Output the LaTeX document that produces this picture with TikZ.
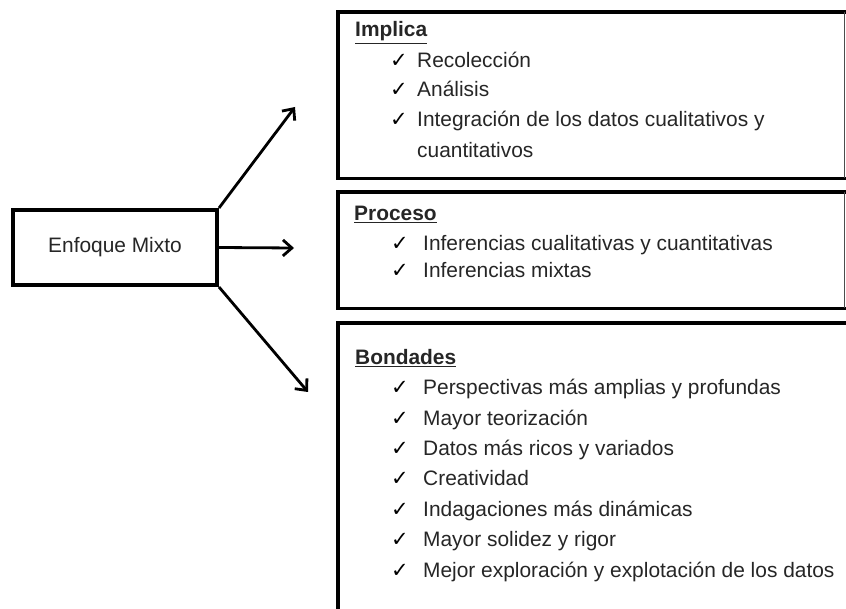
\documentclass[tikz,border=0pt]{standalone}
\usepackage{fontspec}
\setmainfont{Liberation Sans}
\newfontfamily\chkfont{DejaVu Sans}
\usetikzlibrary{arrows.meta}
\begin{document}
\begin{tikzpicture}[x=1pt,y=-1pt,
  txt/.style={anchor=base west, inner sep=0pt, font=\fontsize{20.9}{24}\selectfont, text=black!85},
  hdr/.style={txt, font=\fontsize{20.9}{24}\selectfont\bfseries},
  chk/.style={anchor=base west, inner sep=0pt, font=\chkfont\fontsize{21}{22}\selectfont, text=black},
  thickline/.style={line width=3.6pt, line cap=rect},
  thinline/.style={line width=1pt, draw=black!70},
  arr/.style={line width=2.8pt, -{Straight Barb[length=9pt,width=16pt,line width=2.8pt]}},
  boxn/.style={inner sep=0pt, anchor=north west}
]
\useasboundingbox (0,0) rectangle (846,609);
\fill[white] (0,0) rectangle (846,609);

% main box
\node[draw, line width=4pt, minimum width=204pt, minimum height=75pt, inner sep=0pt,
      font=\fontsize{20.9}{24}\selectfont, text=black!85] (m) at (115,247.5) {Enfoque Mixto};

% box 1
\node[boxn, minimum width=506pt, minimum height=166pt] (b1) at (338,12) {};
\draw[thickline] (b1.north east) -- (b1.north west) -- (b1.south west) -- (b1.south east);
\draw[thinline] (b1.north east) -- (b1.south east);

% box 2
\node[boxn, minimum width=506pt, minimum height=116pt] (b2) at (338,192) {};
\draw[thickline] (b2.north east) -- (b2.north west) -- (b2.south west) -- (b2.south east);
\draw[thinline] (b2.north east) -- (b2.south east);

% box 3
\node[boxn, minimum width=508pt, minimum height=290pt] (b3) at (338,323) {};
\draw[thickline] (b3.north east) -- (b3.north west) -- (b3.south west);

% arrows
\coordinate (t1) at (295,107);
\coordinate (t2) at (294,248);
\coordinate (t3) at (308,392);
\draw[arr] (m.north east) -- (t1);
\draw[arr] (m.east) -- (t2);
\draw[arr] (m.south east) -- (t3);

% box 1 text
\node[hdr] (h1) at (355,37) {\underline{Implica}};
\node[chk] (c11) at (390,68) {✓}; \node[txt] (i11) at (417,68) {Recolección};
\node[chk] (c12) at (390,97) {✓}; \node[txt] (i12) at (417,97) {Análisis};
\node[chk] (c13) at (390,127) {✓}; \node[txt] (i13) at (417,127) {Integración de los datos cualitativos y};
\node[txt] (i14) at (417,158) {cuantitativos};

% box 2 text
\node[hdr] (h2) at (354,221) {\underline{Proceso}};
\node[chk] (c21) at (391,251) {✓}; \node[txt] (i21) at (423,251) {Inferencias cualitativas y cuantitativas};
\node[chk] (c22) at (391,278) {✓}; \node[txt] (i22) at (423,278) {Inferencias mixtas};

% box 3 text
\node[hdr] (h3) at (355,365) {\underline{Bondades}};
\node[chk] (c31) at (391,395) {✓}; \node[txt] (i31) at (423,395) {Perspectivas más amplias y profundas};
\node[chk] (c32) at (391,425) {✓}; \node[txt] (i32) at (423,425) {Mayor teorización};
\node[chk] (c33) at (391,455) {✓}; \node[txt] (i33) at (423,455) {Datos más ricos y variados};
\node[chk] (c34) at (391,485) {✓}; \node[txt] (i34) at (423,485) {Creatividad};
\node[chk] (c35) at (391,516) {✓}; \node[txt] (i35) at (423,516) {Indagaciones más dinámicas};
\node[chk] (c36) at (391,546) {✓}; \node[txt] (i36) at (423,546) {Mayor solidez y rigor};
\node[chk] (c37) at (391,577) {✓}; \node[txt] (i37) at (423,577) {Mejor exploración y explotación de los datos};
\end{tikzpicture}
\end{document}
